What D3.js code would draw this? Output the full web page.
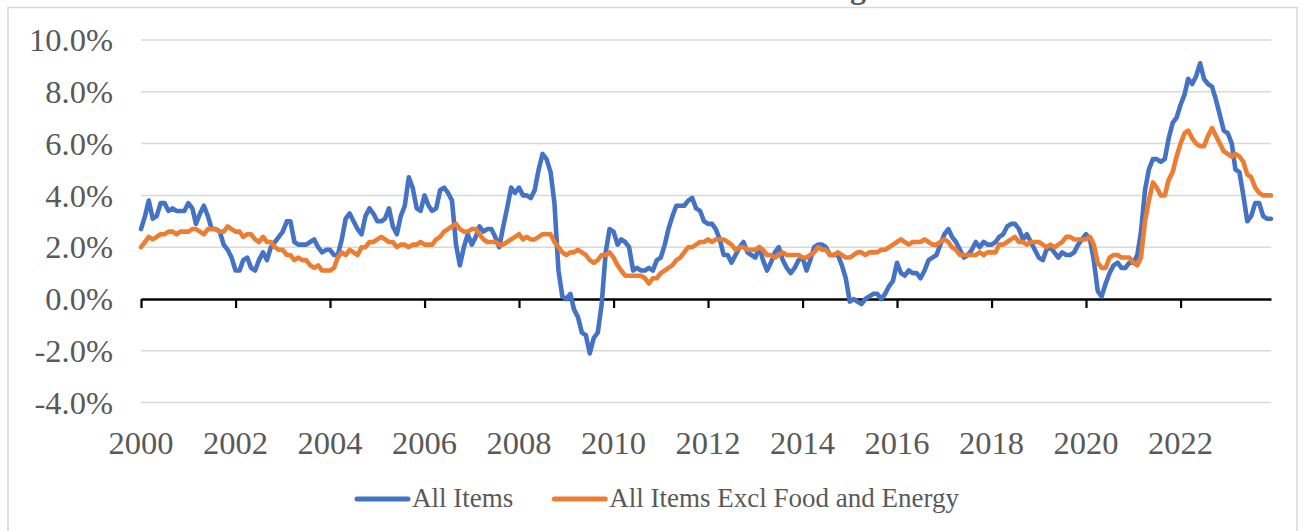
<!DOCTYPE html>
<html><head><meta charset="utf-8">
<script src="https://cdn.jsdelivr.net/npm/d3@7"></script>
<style>html,body{margin:0;padding:0;background:#fff;overflow:hidden}</style>
</head><body>
<svg id="chart" width="1300" height="531"></svg>
<script>
// ---------------- DATA ----------------
const chartTitle = "CPI Inflation Is Moderating";
const seriesNames = ["All Items", "All Items Excl Food and Energy"];
const seriesColors = ["#4472C4", "#ED7D31"];
const startYear = 2000;   // monthly data, Jan 2000 – Dec 2023
const xTickLabels = ["2000","2002","2004","2006","2008","2010","2012","2014","2016","2018","2020","2022"];
const yTicks = [-4, -2, 0, 2, 4, 6, 8, 10];

// Year-over-year % change, All Items
const allItems = [
  2.7, 3.2, 3.8, 3.1, 3.2, 3.7, 3.7, 3.4, 3.5, 3.4, 3.4, 3.4,   // 2000
  3.7, 3.5, 2.9, 3.3, 3.6, 3.2, 2.7, 2.7, 2.6, 2.1, 1.9, 1.6,   // 2001
  1.1, 1.1, 1.5, 1.6, 1.2, 1.1, 1.5, 1.8, 1.5, 2.0, 2.2, 2.4,   // 2002
  2.6, 3.0, 3.0, 2.2, 2.1, 2.1, 2.1, 2.2, 2.3, 2.0, 1.8, 1.9,   // 2003
  1.9, 1.7, 1.7, 2.3, 3.1, 3.3, 3.0, 2.7, 2.5, 3.2, 3.5, 3.3,   // 2004
  3.0, 3.0, 3.1, 3.5, 2.8, 2.5, 3.2, 3.6, 4.7, 4.3, 3.5, 3.4,   // 2005
  4.0, 3.6, 3.4, 3.5, 4.2, 4.3, 4.1, 3.8, 2.1, 1.3, 2.0, 2.5,   // 2006
  2.1, 2.4, 2.8, 2.6, 2.7, 2.7, 2.4, 2.0, 2.8, 3.5, 4.3, 4.1,   // 2007
  4.3, 4.0, 4.0, 3.9, 4.2, 5.0, 5.6, 5.4, 4.9, 3.7, 1.1, 0.1,   // 2008
  0.0, 0.2, -0.4, -0.7, -1.3, -1.4, -2.1, -1.5, -1.3, -0.2, 1.8, 2.7, // 2009
  2.6, 2.1, 2.3, 2.2, 2.0, 1.1, 1.2, 1.1, 1.1, 1.2, 1.1, 1.5,   // 2010
  1.6, 2.1, 2.7, 3.2, 3.6, 3.6, 3.6, 3.8, 3.9, 3.5, 3.4, 3.0,   // 2011
  2.9, 2.9, 2.7, 2.3, 1.7, 1.7, 1.4, 1.7, 2.0, 2.2, 1.8, 1.7,   // 2012
  1.6, 2.0, 1.5, 1.1, 1.4, 1.8, 2.0, 1.5, 1.2, 1.0, 1.2, 1.5,   // 2013
  1.6, 1.1, 1.5, 2.0, 2.1, 2.1, 2.0, 1.7, 1.7, 1.7, 1.3, 0.8,   // 2014
  -0.1, 0.0, -0.1, -0.2, 0.0, 0.1, 0.2, 0.2, 0.0, 0.2, 0.5, 0.7, // 2015
  1.4, 1.0, 0.9, 1.1, 1.0, 1.0, 0.8, 1.1, 1.5, 1.6, 1.7, 2.1,   // 2016
  2.5, 2.7, 2.4, 2.2, 1.9, 1.6, 1.7, 1.9, 2.2, 2.0, 2.2, 2.1,   // 2017
  2.1, 2.2, 2.4, 2.5, 2.8, 2.9, 2.9, 2.7, 2.3, 2.5, 2.2, 1.9,   // 2018
  1.6, 1.5, 1.9, 2.0, 1.8, 1.6, 1.8, 1.7, 1.7, 1.8, 2.1, 2.3,   // 2019
  2.5, 2.3, 1.5, 0.3, 0.1, 0.6, 1.0, 1.3, 1.4, 1.2, 1.2, 1.4,   // 2020
  1.4, 1.7, 2.6, 4.2, 5.0, 5.4, 5.4, 5.3, 5.4, 6.2, 6.8, 7.0,   // 2021
  7.5, 7.9, 8.5, 8.3, 8.6, 9.1, 8.5, 8.3, 8.2, 7.7, 7.1, 6.5,   // 2022
  6.4, 6.0, 5.0, 4.9, 4.0, 3.0, 3.2, 3.7, 3.7, 3.2, 3.1, 3.1    // 2023
];

// Year-over-year % change, All Items Excl Food and Energy
const coreItems = [
  2.0, 2.2, 2.4, 2.3, 2.4, 2.5, 2.5, 2.6, 2.6, 2.5, 2.6, 2.6,   // 2000
  2.6, 2.7, 2.7, 2.6, 2.5, 2.7, 2.7, 2.7, 2.6, 2.6, 2.8, 2.7,   // 2001
  2.6, 2.6, 2.4, 2.5, 2.5, 2.3, 2.2, 2.4, 2.2, 2.2, 2.0, 1.9,   // 2002
  1.9, 1.7, 1.7, 1.5, 1.6, 1.5, 1.5, 1.3, 1.2, 1.3, 1.1, 1.1,   // 2003
  1.1, 1.2, 1.6, 1.8, 1.7, 1.9, 1.8, 1.7, 2.0, 2.0, 2.2, 2.2,   // 2004
  2.3, 2.4, 2.3, 2.2, 2.2, 2.0, 2.1, 2.1, 2.0, 2.1, 2.1, 2.2,   // 2005
  2.1, 2.1, 2.1, 2.3, 2.4, 2.6, 2.7, 2.8, 2.9, 2.7, 2.6, 2.6,   // 2006
  2.7, 2.7, 2.5, 2.3, 2.2, 2.2, 2.2, 2.1, 2.1, 2.2, 2.3, 2.4,   // 2007
  2.5, 2.3, 2.4, 2.3, 2.3, 2.4, 2.5, 2.5, 2.5, 2.2, 2.0, 1.8,   // 2008
  1.7, 1.8, 1.8, 1.9, 1.8, 1.7, 1.5, 1.4, 1.5, 1.7, 1.7, 1.8,   // 2009
  1.6, 1.3, 1.1, 0.9, 0.9, 0.9, 0.9, 0.9, 0.8, 0.6, 0.8, 0.8,   // 2010
  1.0, 1.1, 1.2, 1.3, 1.5, 1.6, 1.8, 2.0, 2.0, 2.1, 2.2, 2.2,   // 2011
  2.3, 2.2, 2.3, 2.3, 2.3, 2.2, 2.1, 1.9, 2.0, 2.0, 1.9, 1.9,   // 2012
  1.9, 2.0, 1.9, 1.7, 1.7, 1.6, 1.7, 1.8, 1.7, 1.7, 1.7, 1.7,   // 2013
  1.6, 1.6, 1.7, 1.8, 2.0, 1.9, 1.9, 1.7, 1.7, 1.8, 1.7, 1.6,   // 2014
  1.6, 1.7, 1.8, 1.8, 1.7, 1.8, 1.8, 1.8, 1.9, 1.9, 2.0, 2.1,   // 2015
  2.2, 2.3, 2.2, 2.1, 2.2, 2.2, 2.2, 2.3, 2.2, 2.1, 2.1, 2.2,   // 2016
  2.3, 2.2, 2.0, 1.9, 1.7, 1.7, 1.7, 1.7, 1.7, 1.8, 1.7, 1.8,   // 2017
  1.8, 1.8, 2.1, 2.1, 2.2, 2.3, 2.4, 2.2, 2.2, 2.1, 2.2, 2.2,   // 2018
  2.2, 2.1, 2.0, 2.1, 2.0, 2.1, 2.2, 2.4, 2.4, 2.3, 2.3, 2.3,   // 2019
  2.3, 2.4, 2.1, 1.4, 1.2, 1.2, 1.6, 1.7, 1.7, 1.6, 1.6, 1.6,   // 2020
  1.4, 1.3, 1.6, 3.0, 3.8, 4.5, 4.3, 4.0, 4.0, 4.6, 4.9, 5.5,   // 2021
  6.0, 6.4, 6.5, 6.2, 6.0, 5.9, 5.9, 6.3, 6.6, 6.3, 6.0, 5.7,   // 2022
  5.6, 5.5, 5.6, 5.5, 5.3, 4.8, 4.7, 4.3, 4.1, 4.0, 4.0, 4.0    // 2023
];

// ---------------- CHART ----------------
const svg = d3.select("#chart");
const FONT = "'Liberation Serif', 'Times New Roman', Times, serif";
const TEXT = "#595959";
const GRID = "#d9d9d9";

const dates = allItems.map((_, i) => new Date(startYear, i, 1));
const series = [allItems, coreItems];

const x = d3.scaleTime()
  .domain([dates[0], dates[dates.length - 1]])
  .range([141, 1271]);
const y = d3.scaleLinear().domain([-4, 10]).range([402.6, 40]);

// chart border
svg.append("rect")
  .attr("x", 8).attr("y", 7.5).attr("width", 1289).attr("height", 560)
  .attr("fill", "none").attr("stroke", GRID).attr("stroke-width", 1.5);

// title (mostly cropped above view)
svg.append("text")
  .attr("x", 866).attr("y", -2)
  .attr("text-anchor", "end")
  .attr("font-family", FONT).attr("font-weight", "bold").attr("font-size", 32)
  .attr("fill", TEXT)
  .text(chartTitle);

// gridlines
svg.append("g").selectAll("line")
  .data(yTicks.filter(d => d !== 0))
  .join("line")
  .attr("x1", 141).attr("x2", 1271)
  .attr("y1", d => y(d)).attr("y2", d => y(d))
  .attr("stroke", GRID).attr("stroke-width", 1.5);

// y axis labels
const yAxis = svg.append("g")
  .attr("transform", "translate(113,0)")
  .call(d3.axisLeft(y).tickValues(yTicks).tickSize(0).tickPadding(0)
    .tickFormat(d => d.toFixed(1) + "%"));
yAxis.select(".domain").remove();
yAxis.selectAll("text")
  .attr("font-family", FONT).attr("font-size", 32.5).attr("fill", TEXT)
  .attr("dy", "0.33em");

// x axis (zero line with ticks)
const tickDates = xTickLabels.map(s => new Date(+s, 0, 1));
const xAxis = svg.append("g")
  .attr("transform", `translate(0,${y(0)})`)
  .call(d3.axisBottom(x).tickValues(tickDates).tickSize(9).tickSizeOuter(0).tickFormat(""));
xAxis.select(".domain").attr("stroke", "#000").attr("stroke-width", 2.5);
xAxis.selectAll(".tick line").attr("stroke", "#000").attr("stroke-width", 2.2);

// x labels
svg.append("g").selectAll("text")
  .data(xTickLabels)
  .join("text")
  .attr("x", (d, i) => x(tickDates[i]))
  .attr("y", 454)
  .attr("text-anchor", "middle")
  .attr("font-family", FONT).attr("font-size", 32.5).attr("fill", TEXT)
  .text(d => d);

// series lines
const line = d3.line()
  .x((d, i) => x(dates[i]))
  .y(d => y(d));
series.forEach((s, k) => {
  svg.append("path")
    .datum(s)
    .attr("d", line)
    .attr("fill", "none")
    .attr("stroke", seriesColors[k])
    .attr("stroke-width", 4.6)
    .attr("stroke-linejoin", "round")
    .attr("stroke-linecap", "round");
});

// legend
const legend = svg.append("g");
let lx = 357;
seriesNames.forEach((name, k) => {
  legend.append("line")
    .attr("x1", lx).attr("x2", lx + 51)
    .attr("y1", 499).attr("y2", 499)
    .attr("stroke", seriesColors[k]).attr("stroke-width", 5)
    .attr("stroke-linecap", "round");
  const t = legend.append("text")
    .attr("x", lx + 55).attr("y", 506.5)
    .attr("font-family", FONT).attr("font-size", 27).attr("fill", TEXT)
    .text(name);
  lx = lx + 55 + t.node().getComputedTextLength() + 41;
});
</script>
</body></html>
